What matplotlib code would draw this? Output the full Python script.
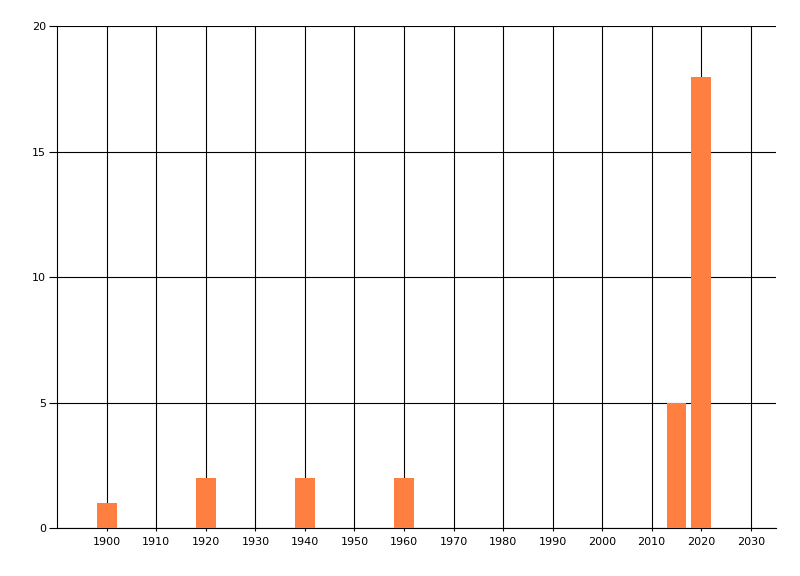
import matplotlib
matplotlib.use("Agg")
import matplotlib.pyplot as plt

years = [1900, 1920, 1940, 1960, 2015, 2020]
counts = [1, 2, 2, 2, 5, 18]
x_ticks = list(range(1900, 2031, 10))
y_ticks = [0, 5, 10, 15, 20]

plt.rcParams['font.family'] = ['DejaVu Sans']

fig = plt.figure(figsize=(8, 5.76), dpi=100)
ax = fig.add_axes([0.0716, 0.0828, 0.8978, 0.8715])

ax.bar(years, counts, width=4, color='#FF7F40', zorder=3)

ax.set_xlim(1890, 2035)
ax.set_ylim(0, 20)
ax.set_xticks(x_ticks)
ax.set_yticks(y_ticks)
ax.tick_params(axis='both', labelsize=8, color='black', width=0.8)
ax.tick_params(axis='y', length=6, pad=2)
ax.tick_params(axis='x', length=2, pad=4)

ax.grid(True, color='black', linewidth=0.8, zorder=1)
ax.set_axisbelow(True)
for s in ['top', 'right']:
    ax.spines[s].set_visible(False)
for s in ['left', 'bottom']:
    ax.spines[s].set_linewidth(0.8)

fig.savefig("out.png", dpi=100)
